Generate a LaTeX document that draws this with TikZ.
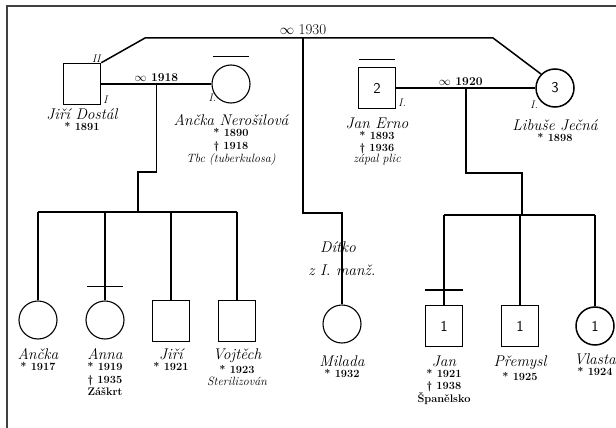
\documentclass[tikz,border=0pt]{standalone}
\usepackage{tikz}
\usetikzlibrary{positioning, calc}

\begin{document}
\begin{tikzpicture}[
    x=1pt, y=-1pt,
    male/.style={draw, line width=1.5pt, minimum width=37pt, minimum height=41pt, inner sep=0pt, font=\sffamily\fontsize{15}{15}\selectfont},
    female/.style={draw, circle, line width=1.5pt, minimum size=38pt, inner sep=0pt, font=\sffamily\fontsize{15}{15}\selectfont},
    faint/.style={line width=1.1pt},
    link/.style={line width=1.5pt},
    bar/.style={line width=1.5pt},
    who/.style={font=\fontsize{15.5}{16}\selectfont\itshape, inner sep=1pt},
    dates/.style={font=\fontsize{11}{12.5}\selectfont\bfseries, align=center, inner sep=1pt},
    cause/.style={font=\fontsize{12}{13}\selectfont\itshape, inner sep=1pt},
    idx/.style={font=\fontsize{11}{12}\selectfont\itshape, inner sep=1pt},
    marr/.style={font=\fontsize{12}{13}\selectfont\bfseries, inner sep=1pt}
]
\useasboundingbox (0,0) rectangle (616,428);
% frame of the scan
\draw[line width=2pt, black!75] (620,6) -| (7,432);

% First marriage
\node[male] (jiri) at (82,84) {};
\node[female, faint] (ancka) at (231,84) {};
% Second family
\node[male] (erno) at (377,88) {2};
\node[female] (libuse) at (555,88) {3};

% Children
\node[female, faint] (ancka2) at (38,320) {};
\node[female, faint] (anna) at (105,320) {};
\node[male] (jiri2) at (171,321) {};
\node[male] (vojtech) at (237,321) {};
\node[female, faint] (milada) at (342,324) {};
\node[male] (jan) at (444,326) {1};
\node[male] (premysl) at (520,326) {1};
\node[female] (vlasta) at (595,326) {1};

% Names and dates
\node[who, below=2pt of jiri] (jirin) {Jiří Dostál};
\node[dates, below=0pt of jirin] {* 1891};
\node[who, below=10pt of ancka] (anckan) {Ančka Nerošilová};
\node[dates, below=0pt of anckan] (anckad) {* 1890\\† 1918};
\node[cause, below=0pt of anckad] {Tbc (tuberkulosa)};
\node[who, below=7pt of erno] (ernon) {Jan Erno};
\node[dates, below=0pt of ernon] (ernod) {* 1893\\† 1936};
\node[cause, below=-2pt of ernod] {zápal plic};
\node[who, below=11pt of libuse] (libusen) {Libuše Ječná};
\node[dates, below=0pt of libusen] {* 1898};

\node[who, below=8pt of ancka2] (ancka2n) {Ančka};
\node[dates, below=0pt of ancka2n] {* 1917};
\node[who, below=8pt of anna] (annan) {Anna};
\node[dates, below=0pt of annan] {* 1919\\† 1935\\Záškrt};
\node[who, below=5pt of jiri2] (jiri2n) {Jiří};
\node[dates, below=0pt of jiri2n] {* 1921};
\node[who, below=5pt of vojtech] (vojtechn) {Vojtěch};
\node[dates, below=0pt of vojtechn] (vojtechd) {* 1923};
\node[cause, below=1pt of vojtechd] {Sterilizován};
\node[who, below=11pt of milada] (miladan) {Milada};
\node[dates, below=0pt of miladan] {* 1932};
\node[who, below=7pt of jan] (jann) {Jan};
\node[dates, below=0pt of jann] {* 1921\\† 1938\\Španělsko};
\node[who, below=7pt of premysl] (premysln) {Přemysl};
\node[dates, below=0pt of premysln] {* 1925};
\node[who, below=7pt of vlasta] (vlastan) {Vlasta};
\node[dates, below=0pt of vlastan] {* 1924};

% Overbars
\draw[bar] ([xshift=-18pt, yshift=8pt]ancka.north) -- ([xshift=18pt, yshift=8pt]ancka.north);
\draw[bar] ([xshift=-18pt, yshift=7pt]erno.north) -- ([xshift=18pt, yshift=7pt]erno.north);
\draw[bar] ([xshift=-18pt, yshift=14pt]anna.north) -- ([xshift=18pt, yshift=14pt]anna.north);
\draw[bar] ([xshift=-19pt, yshift=15pt]jan.north) -- ([xshift=19pt, yshift=15pt]jan.north);

% Marriage tags
\node[idx, above=-1pt of jiri.north east, xshift=-5pt] {II};
\node[idx, right=1pt of jiri.south east, yshift=6pt] {I};
\node[idx, left=0pt of ancka.south west] {I.};
\node[idx, right=1pt of erno.south east, yshift=7pt] {I.};
\node[idx, left=2pt of libuse.south west, yshift=-3pt] {I.};

% Marriage 1918 and its children
\draw[link] (jiri.east) -- (ancka.west);
\coordinate (m1) at ($(jiri.east)!0.5!(ancka.west)$);
\node[marr, above=1pt of m1] {$\infty$ 1918};
\coordinate (k1) at (138,212);
\draw[link] (m1) |- ($(k1)+(0,-40)$) -- (k1);
\draw[link] (ancka2 |- k1) -- (vojtech |- k1);
\foreach \c in {ancka2, anna, jiri2, vojtech}
  \draw[link] (\c |- k1) -- (\c.north);

% Marriage 1930
\coordinate (w1) at (145,38);
\coordinate (w2) at (493,38);
\coordinate (w3) at (303,38);
\draw[link] (jiri.north east) -- (w1) -- (w2) -- (libuse.north west);
\node[marr, font=\fontsize{15}{16}\selectfont, above=2pt of w3] {$\infty$ 1930};
\coordinate (k3) at (342,213);
\draw[link] (w3) |- (k3) -- (milada.north);
\node[who] at (338,247) {Dítko};
\node[who] at (342,270) {z I. manž.};

% Marriage 1920 and its children
\draw[link] (erno.east) -- (libuse.west);
\coordinate (m2) at ($(erno.east)!0.5!(libuse.west)$);
\node[marr, above=1pt of m2, xshift=-5pt] {$\infty$ 1920};
\coordinate (k2) at (522,215);
\draw[link] (m2) |- ($(k2)+(0,-42)$) -- (k2);
\draw[link] (jan |- k2) -- (vlasta |- k2);
\foreach \c in {jan, premysl, vlasta}
  \draw[link] (\c |- k2) -- (\c.north);
\end{tikzpicture}
\end{document}
